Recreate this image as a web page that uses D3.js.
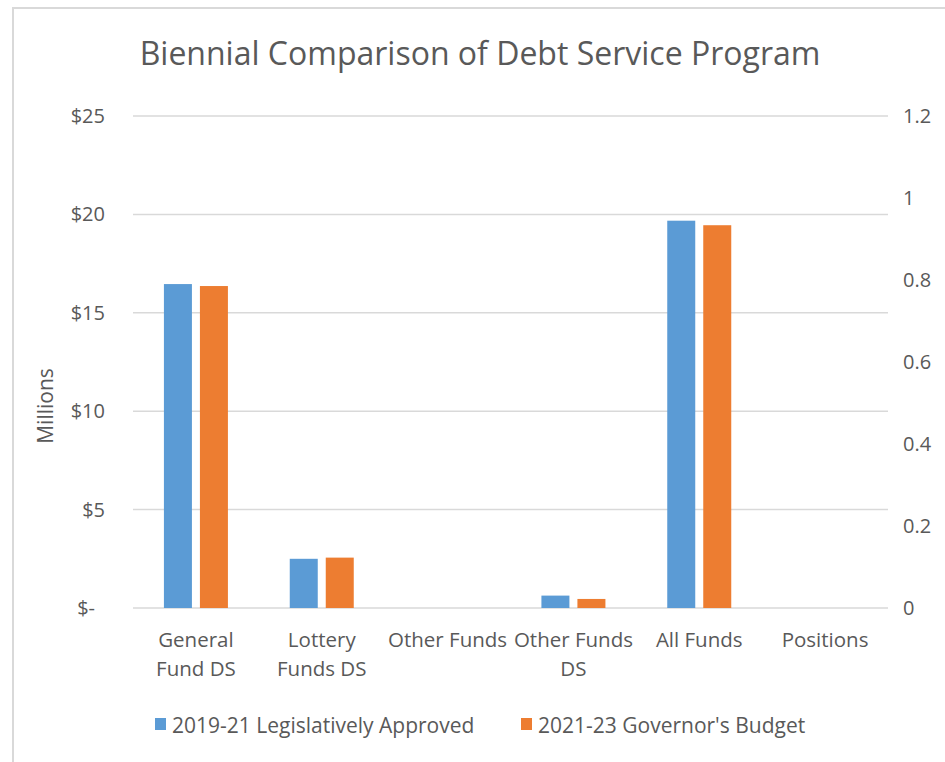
<!DOCTYPE html>
<html>
<head>
<meta charset="utf-8">
<script src="https://cdn.jsdelivr.net/npm/d3@7"></script>
<style>
  html, body { margin: 0; padding: 0; background: #fff; }
  svg, svg text { font-family: "Open Sans", "Noto Sans", sans-serif; }
  svg { display: block; }
</style>
</head>
<body>
<svg id="chart" width="945" height="762"></svg>
<script>
// Categories (label lines) and the two budget series, in $ millions
const categories = ["General Fund DS", "Lottery Funds DS", "Other Funds", "Other Funds DS", "All Funds", "Positions"];
const categoryLines = [["General", "Fund DS"], ["Lottery", "Funds DS"], ["Other Funds"], ["Other Funds", "DS"], ["All Funds"], ["Positions"]];
const seriesNames = ["2019-21 Legislatively Approved", "2021-23 Governor's Budget"];
const approved1921 = [16.46, 2.50, 0, 0.63, 19.68, 0];
const governor2123 = [16.36, 2.56, 0, 0.46, 19.45, 0];
const leftTicks = [0, 5, 10, 15, 20, 25];
const rightTicks = [0, 0.2, 0.4, 0.6, 0.8, 1, 1.2];
const colors = ["#5B9BD5", "#ED7D31"];

const svg = d3.select("#chart");
const textColor = "#595959";
const gridColor = "#D9D9D9";
const fontFamily = '"Open Sans", "Noto Sans", sans-serif';

const plot = { left: 133, right: 888, top: 116, bottom: 608 };

// Chart frame (top and left edges)
svg.append("path")
  .attr("d", "M13,950 L13,8 L950,8")
  .attr("fill", "none")
  .attr("stroke", gridColor)
  .attr("stroke-width", 2);

// Title
svg.append("text")
  .attr("x", 480).attr("y", 65)
  .attr("text-anchor", "middle")
  .attr("fill", textColor)
  .style("font-size", "32px")
  .text("Biennial Comparison of Debt Service Program");

const x0 = d3.scaleBand().domain(categories).range([plot.left, plot.right]).paddingInner(0).paddingOuter(0);
const groupWidth = 64;
const x1 = d3.scaleBand().domain(seriesNames).range([0, groupWidth]).paddingInner(8 / 36).paddingOuter(0);
const y = d3.scaleLinear().domain([0, 25]).range([plot.bottom, plot.top]);
const yRight = d3.scaleLinear().domain([0, 1.2]).range([plot.bottom, plot.top]);

// Gridlines
svg.append("g")
  .selectAll("line")
  .data(leftTicks)
  .join("line")
  .attr("x1", plot.left).attr("x2", plot.right)
  .attr("y1", d => y(d)).attr("y2", d => y(d))
  .attr("stroke", gridColor)
  .attr("stroke-width", 1.5);

// Left axis
const leftAxis = svg.append("g")
  .attr("transform", `translate(${plot.left},0)`)
  .call(d3.axisLeft(y).tickValues(leftTicks).tickSize(0).tickPadding(28)
    .tickFormat(d => d === 0 ? "$-" : "$" + d))
  .attr("font-family", fontFamily)
  .attr("font-size", 20);
leftAxis.select(".domain").remove();
leftAxis.selectAll("text")
  .attr("fill", textColor)
  .attr("x", d => d === 0 ? -38 : -28);

// Right axis
const rightAxis = svg.append("g")
  .attr("transform", `translate(${plot.right},0)`)
  .call(d3.axisRight(yRight).tickValues(rightTicks).tickSize(0).tickPadding(15)
    .tickFormat(d => String(d)))
  .attr("font-family", fontFamily)
  .attr("font-size", 20);
rightAxis.select(".domain").remove();
rightAxis.selectAll("text")
  .attr("fill", textColor);

// Y axis title
svg.append("text")
  .attr("transform", "translate(53,406) rotate(-90)")
  .attr("text-anchor", "middle")
  .attr("fill", textColor)
  .style("font-size", "21px")
  .text("Millions");

// Bars
const rows = categories.map((c, i) => ({ cat: c, vals: [approved1921[i], governor2123[i]] }));
const groups = svg.append("g")
  .selectAll("g")
  .data(rows)
  .join("g")
  .attr("transform", d => `translate(${x0(d.cat) + (x0.bandwidth() - groupWidth) / 2},0)`);
groups.selectAll("rect")
  .data(d => d.vals.map((v, j) => ({ name: seriesNames[j], v, j })))
  .join("rect")
  .filter(d => d.v > 0)
  .attr("x", d => x1(d.name))
  .attr("width", x1.bandwidth())
  .attr("y", d => y(d.v))
  .attr("height", d => y(0) - y(d.v))
  .attr("fill", d => colors[d.j]);

// Category labels
const catLabels = svg.append("g")
  .selectAll("text")
  .data(categories)
  .join("text")
  .attr("x", d => x0(d) + x0.bandwidth() / 2)
  .attr("y", 647)
  .attr("text-anchor", "middle")
  .attr("fill", textColor)
  .style("font-size", "20.5px");
catLabels.each(function (d, i) {
  d3.select(this).selectAll("tspan")
    .data(categoryLines[i])
    .join("tspan")
    .attr("x", x0(d) + x0.bandwidth() / 2)
    .attr("dy", (t, k) => k === 0 ? 0 : 29)
    .text(t => t);
});

// Legend
const legendX = [155, 521];
const legend = svg.append("g")
  .selectAll("g")
  .data(seriesNames)
  .join("g")
  .attr("transform", (d, i) => `translate(${legendX[i]},718)`);
legend.append("rect")
  .attr("width", 11).attr("height", 12)
  .attr("fill", (d, i) => colors[i]);
legend.append("text")
  .attr("x", 17).attr("y", 15)
  .attr("fill", textColor)
  .style("font-size", "21px")
  .text(d => d);
</script>
</body>
</html>
